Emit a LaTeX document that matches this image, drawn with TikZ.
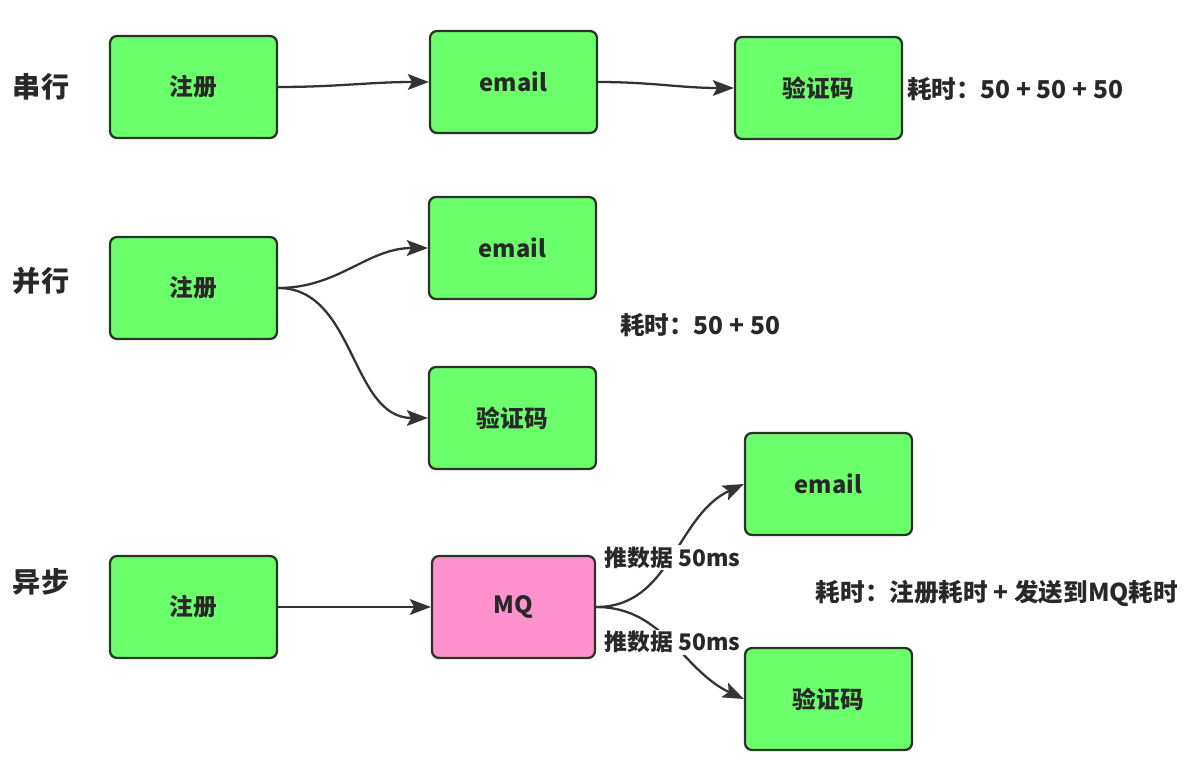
\documentclass[tikz,border=0pt]{standalone}
\usepackage{fontspec}
\setmainfont{Noto Sans CJK SC}
\usetikzlibrary{arrows.meta, positioning}
\definecolor{boxgreen}{RGB}{108,255,108}
\definecolor{mqpink}{RGB}{255,145,204}
\definecolor{boxborder}{RGB}{40,52,40}
\definecolor{arrowgray}{RGB}{51,51,51}
\definecolor{textgray}{RGB}{40,40,40}
\tikzset{
  greenbox/.style={
    draw=boxborder, fill=boxgreen, line width=1.3pt,
    rounded corners=4pt, minimum width=3.34cm,
    minimum height=2.04cm, align=center,
    font=\fontsize{13.5}{15}\selectfont\bfseries\color{textgray}
  },
  mqbox/.style={
    greenbox, fill=mqpink, minimum width=3.26cm
  },
  flowarrow/.style={
    -{Stealth[length=12pt,width=9pt,inset=2.5pt]},
    draw=arrowgray, line width=1.3pt
  },
  rowlabel/.style={
    font=\fontsize{16}{18}\selectfont\bfseries\color{textgray}
  },
  costlabel/.style={
    font=\fontsize{14}{16}\selectfont\bfseries\color{textgray},
    inner sep=2pt
  },
  edgelabel/.style={
    font=\fontsize{13}{15}\selectfont\bfseries\color{textgray},
    fill=white, inner sep=1pt
  },
}
\begin{document}
\begin{tikzpicture}[x=0.02cm, y=-0.02cm]
    \useasboundingbox (0,0) rectangle (1190,780);

    %% 串行
    \node[rowlabel] (lserial) at (41,87) {串行};
    \node[greenbox] (reg1) at (193.5,87) {注册};
    \node[greenbox] (mail1) at (513.5,82) {email};
    \node[greenbox] (code1) at (818.5,88) {验证码};
    \node[costlabel, right=0cm of code1, yshift=-0.02cm] (cost1) {耗时：50 + 50 + 50};

    \draw[flowarrow] (reg1.east) to[out=0, in=180] (mail1.west);
    \draw[flowarrow] (mail1.east) to[out=0, in=180] (code1.west);

    %% 并行
    \node[rowlabel] (lparallel) at (41,281) {并行};
    \node[greenbox] (reg2) at (193.5,288) {注册};
    \node[greenbox] (mail2) at (512.5,248) {email};
    \node[greenbox] (code2) at (512.5,418) {验证码};
    \node[costlabel] (cost2) at (700,325) {耗时：50 + 50};

    \draw[flowarrow] (reg2.east) to[out=0, in=180] (mail2.west);
    \draw[flowarrow] (reg2.east) to[out=0, in=180] (code2.west);

    %% 异步
    \node[rowlabel] (lasync) at (41,582) {异步};
    \node[greenbox] (reg3) at (193.5,607) {注册};
    \node[mqbox] (mq) at (513.5,607) {MQ};
    \node[greenbox] (mail3) at (828.5,484) {email};
    \node[greenbox] (code3) at (828.5,699) {验证码};
    \node[costlabel, anchor=west] (cost3) at (812,593) {耗时：注册耗时 + 发送到MQ耗时};

    \draw[flowarrow] (reg3.east) -- (mq.west);
    \draw[flowarrow] (mq.east) to[out=0, in=205]
      node[edgelabel, midway] {推数据 50ms} (mail3.west);
    \draw[flowarrow] (mq.east) to[out=0, in=155]
      node[edgelabel, midway] {推数据 50ms} (code3.west);

  \end{tikzpicture}
\end{document}
